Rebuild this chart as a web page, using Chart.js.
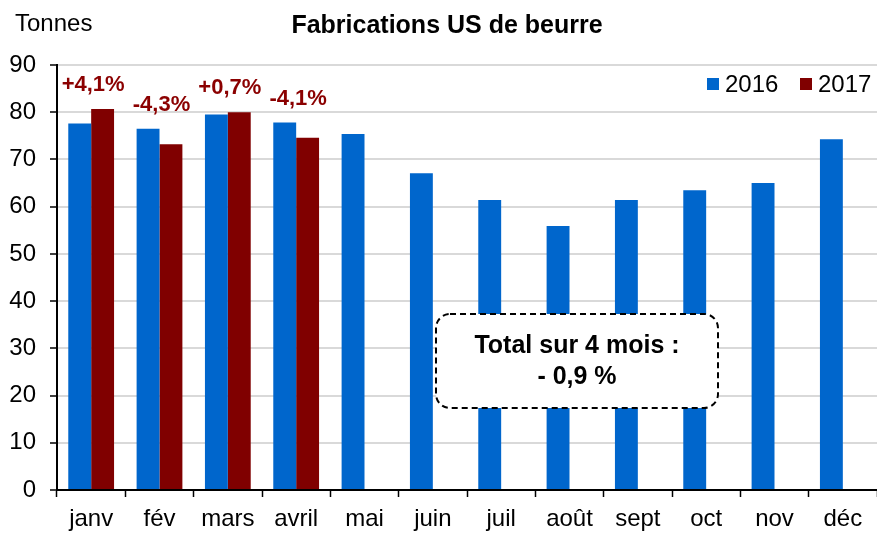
<!DOCTYPE html>
<html lang="fr">
<head>
<meta charset="utf-8">
<title>Fabrications US de beurre</title>
<script src="https://cdn.jsdelivr.net/npm/chart.js@4.4.1/dist/chart.umd.min.js"></script>
<style>
  html, body { margin: 0; padding: 0; background: #fff; }
  #wrap { width: 877px; height: 533px; }
</style>
</head>
<body>
<div id="wrap"><canvas id="graphBeurre" width="877" height="533"></canvas></div>
<script>
// ===== DONNÉES =====
const mois = ["janv", "fév", "mars", "avril", "mai", "juin", "juil", "août", "sept", "oct", "nov", "déc"];
const prod2016 = [77.6, 76.5, 79.5, 77.8, 75.4, 67.1, 61.4, 55.9, 61.4, 63.5, 65.0, 74.3];
const prod2017 = [80.7, 73.2, 80.0, 74.6, null, null, null, null, null, null, null, null];
const variations = ["+4,1%", "-4,3%", "+0,7%", "-4,1%"];
const graduations = [0, 10, 20, 30, 40, 50, 60, 70, 80, 90];
const encadre = ["Total sur 4 mois :", "- 0,9 %"];

const BLEU = "#0066cc";
const BORDEAUX = "#800000";
const POLICE = "'Liberation Sans', Arial, sans-serif";

// titre, unité et légende dessinés à la main
const entete = {
    id: "entete",
    afterDraw(chart) {
        const ctx = chart.ctx;
        ctx.save();
        ctx.fillStyle = "#000";
        ctx.textBaseline = "alphabetic";

        ctx.font = "24px " + POLICE;
        ctx.textAlign = "left";
        ctx.fillText("Tonnes", 15, 31);

        ctx.font = "bold 25px " + POLICE;
        ctx.textAlign = "center";
        ctx.fillText("Fabrications US de beurre", 447, 33);

        // légende
        ctx.font = "24px " + POLICE;
        ctx.textAlign = "left";
        let x = 707;
        chart.data.datasets.forEach(ds => {
            ctx.fillStyle = ds.backgroundColor;
            ctx.fillRect(x, 78, 12, 12);
            ctx.fillStyle = "#000";
            ctx.fillText(ds.label, x + 18, 92);
            x += 93;
        });
        ctx.restore();
    }
};

// pourcentages au-dessus des paires de barres
const etiquettes = {
    id: "etiquettes",
    afterDatasetsDraw(chart) {
        const ctx = chart.ctx;
        const xs = chart.scales.x;
        const ys = chart.scales.y;
        ctx.save();
        ctx.font = "bold 22px " + POLICE;
        ctx.fillStyle = "#8b0000";
        ctx.textAlign = "center";
        ctx.textBaseline = "middle";
        variations.forEach((txt, i) => {
            const haut = Math.max(prod2016[i], prod2017[i]);
            const y = ys.getPixelForValue(haut) - 24;
            ctx.fillText(txt, xs.getPixelForValue(i) + 2, y);
        });
        ctx.restore();
    }
};

// encadré pointillé
const encadreTotal = {
    id: "encadreTotal",
    afterDatasetsDraw(chart) {
        const ctx = chart.ctx;
        const x0 = 436, y0 = 314, w = 282, h = 94, r = 14;
        ctx.save();
        ctx.beginPath();
        ctx.roundRect(x0, y0, w, h, r);
        ctx.fillStyle = "#fff";
        ctx.fill();
        ctx.setLineDash([6, 4]);
        ctx.lineWidth = 2;
        ctx.strokeStyle = "#000";
        ctx.stroke();
        ctx.setLineDash([]);
        ctx.fillStyle = "#000";
        ctx.font = "bold 25px " + POLICE;
        ctx.textAlign = "center";
        ctx.textBaseline = "alphabetic";
        ctx.fillText(encadre[0], x0 + w / 2, 353);
        ctx.fillText(encadre[1], x0 + w / 2, 384);
        ctx.restore();
    }
};

document.addEventListener("DOMContentLoaded", () => {
    const canvas = document.getElementById("graphBeurre");

    new Chart(canvas, {
        type: "bar",
        data: {
            labels: mois,
            datasets: [
                { label: "2016", data: prod2016, backgroundColor: BLEU },
                { label: "2017", data: prod2017, backgroundColor: BORDEAUX }
            ]
        },
        options: {
            responsive: false,
            animation: false,
            categoryPercentage: 0.67,
            barPercentage: 1.0,
            layout: { padding: { top: 65, right: 0, left: 0, bottom: 0 } },
            plugins: {
                legend: { display: false },
                title: { display: false },
                tooltip: { enabled: false }
            },
            scales: {
                x: {
                    offset: true,
                    grid: {
                        offset: true,
                        drawOnChartArea: false,
                        tickLength: 7,
                        tickColor: "#000",
                        tickWidth: 1.5
                    },
                    border: { color: "#000", width: 2 },
                    ticks: {
                        color: "#000",
                        padding: 8,
                        maxRotation: 0,
                        autoSkip: false,
                        font: { family: POLICE, size: 24 }
                    },
                    afterFit: s => { s.height = 43; }
                },
                y: {
                    min: 0,
                    max: 90,
                    afterBuildTicks: s => { s.ticks = graduations.map(v => ({ value: v })); },
                    grid: {
                        color: "#d9d9d9",
                        lineWidth: 2,
                        tickLength: 7,
                        tickColor: "#000",
                        tickWidth: 1.5
                    },
                    border: { color: "#000", width: 2 },
                    ticks: {
                        color: "#000",
                        padding: 14,
                        font: { family: POLICE, size: 24 }
                    },
                    afterFit: s => { s.width = 57; }
                }
            }
        },
        plugins: [etiquettes, encadreTotal, entete]
    });
});
</script>
</body>
</html>
